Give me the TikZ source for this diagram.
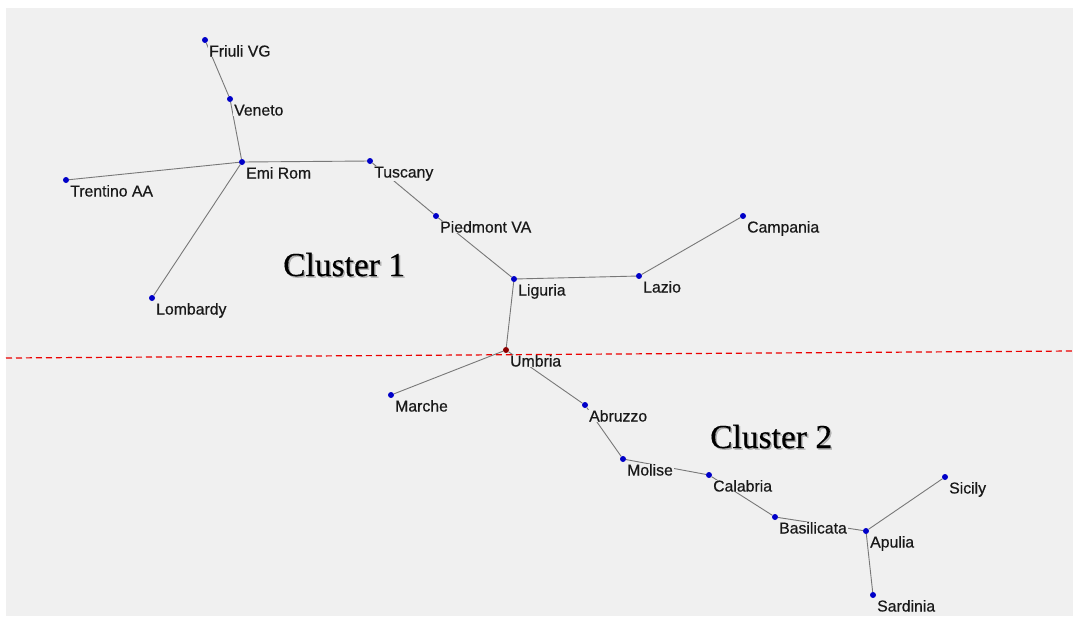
\documentclass[tikz,border=0pt]{standalone}
\usepackage{fontspec}
\newfontfamily\lblfont[FakeBold=0.5]{Liberation Sans}
\newfontfamily\clusterfont[FakeBold=0.4]{Liberation Serif}
\definecolor{panelgray}{RGB}{240,240,240}
\definecolor{edgegray}{RGB}{120,120,120}
\definecolor{dotblue}{RGB}{0,0,200}
\definecolor{dotred}{RGB}{140,0,0}
\definecolor{cutred}{RGB}{235,0,0}
\pgfdeclarelayer{panel}
\pgfdeclarelayer{edges}
\pgfsetlayers{panel,edges,main}
\begin{document}
\begin{tikzpicture}[x=1pt,y=-1pt,
  dot/.style={circle,fill=dotblue,inner sep=0pt,minimum size=6pt},
  region/.style={anchor=base west,fill=panelgray,inner xsep=1pt,inner ysep=0.5pt,
    text=black!90,font=\lblfont\fontsize{15.8}{17}\selectfont},
  edge/.style={draw=edgegray,line width=0.9pt},
  cluster/.style={anchor=base west,inner sep=0pt,font=\clusterfont\fontsize{33.5}{36}\selectfont}]

% Frame and panel
\useasboundingbox (0,0) rectangle (1073,616);
\begin{pgfonlayer}{panel}
\fill[white] (0,0) rectangle (1073,616);
\fill[panelgray] (6,8) rectangle (1073,616);
\end{pgfonlayer}

% Region points
\node[dot] (friuli) at (205,40) {};
\node[dot] (veneto) at (230,99) {};
\node[dot] (emirom) at (242,162) {};
\node[dot] (trentino) at (66,180) {};
\node[dot] (lombardy) at (152,298) {};
\node[dot] (tuscany) at (370,161) {};
\node[dot] (piedmont) at (436,216) {};
\node[dot] (liguria) at (514,279) {};
\node[dot] (lazio) at (639,276) {};
\node[dot] (campania) at (743,216) {};
\node[dot,fill=dotred] (umbria) at (506,350) {};
\node[dot] (marche) at (391,395) {};
\node[dot] (abruzzo) at (585,405) {};
\node[dot] (molise) at (623,459) {};
\node[dot] (calabria) at (709,475) {};
\node[dot] (basilicata) at (775,517) {};
\node[dot] (apulia) at (866,531) {};
\node[dot] (sicily) at (945,477) {};
\node[dot] (sardinia) at (873,595) {};

% Tree edges
\begin{pgfonlayer}{edges}
\draw[edge] (friuli) -- (veneto) -- (emirom) -- (tuscany) -- (piedmont) -- (liguria) -- (lazio) -- (campania);
\draw[edge] (trentino) -- (emirom) -- (lombardy);
\draw[edge] (liguria) -- (umbria) -- (marche);
\draw[edge] (umbria) -- (abruzzo) -- (molise) -- (calabria) -- (basilicata) -- (apulia) -- (sicily);
\draw[edge] (apulia) -- (sardinia);
\end{pgfonlayer}

% Region names
\node[region] (friuli-l) at ([shift={(3,16.5)}]friuli) {Friuli VG};
\node[region] (veneto-l) at ([shift={(3,16.5)}]veneto) {Veneto};
\node[region] (emirom-l) at ([shift={(3,16.5)}]emirom) {Emi Rom};
\node[region] (trentino-l) at ([shift={(3,16.5)}]trentino) {Trentino AA};
\node[region] (lombardy-l) at ([shift={(3,16.5)}]lombardy) {Lombardy};
\node[region] (tuscany-l) at ([shift={(3,16.5)}]tuscany) {Tuscany};
\node[region] (piedmont-l) at ([shift={(3,16.5)}]piedmont) {Piedmont VA};
\node[region] (liguria-l) at ([shift={(3,16.5)}]liguria) {Liguria};
\node[region] (lazio-l) at ([shift={(3,16.5)}]lazio) {Lazio};
\node[region] (campania-l) at ([shift={(3,16.5)}]campania) {Campania};
\node[region] (umbria-l) at ([shift={(3,16.5)}]umbria) {Umbria};
\node[region] (marche-l) at ([shift={(3,16.5)}]marche) {Marche};
\node[region] (abruzzo-l) at ([shift={(3,16.5)}]abruzzo) {Abruzzo};
\node[region] (molise-l) at ([shift={(3,16.5)}]molise) {Molise};
\node[region] (calabria-l) at ([shift={(3,16.5)}]calabria) {Calabria};
\node[region] (basilicata-l) at ([shift={(3,16.5)}]basilicata) {Basilicata};
\node[region] (apulia-l) at ([shift={(3,16.5)}]apulia) {Apulia};
\node[region] (sicily-l) at ([shift={(3,16.5)}]sicily) {Sicily};
\node[region] (sardinia-l) at ([shift={(3,16.5)}]sardinia) {Sardinia};

% Cut line
\coordinate (cutL) at (6,358);
\coordinate (cutR) at (1073,351);
\draw[cutred,line width=1.2pt,dash pattern=on 6pt off 4pt] (cutL) -- (cutR);

% Cluster titles
\node[cluster,text=black!30] (c1-s) at (284.5,277.5) {Cluster 1};
\node[cluster] (c1) at (283,276) {Cluster 1};
\node[cluster,text=black!30] (c2-s) at (711.5,449.5) {Cluster 2};
\node[cluster] (c2) at (710,448) {Cluster 2};

\end{tikzpicture}
\end{document}
